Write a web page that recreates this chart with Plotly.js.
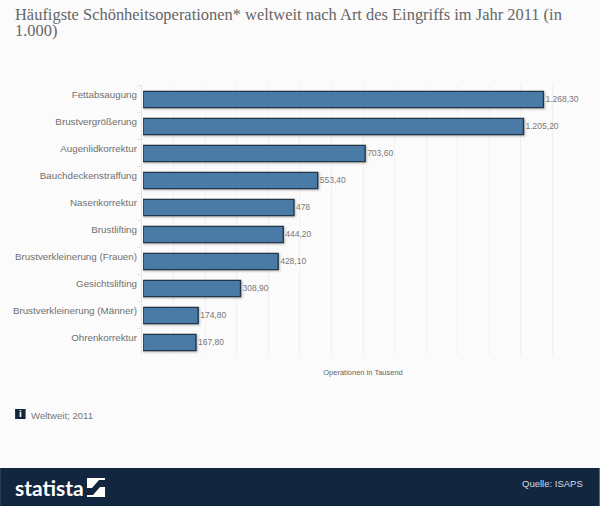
<!DOCTYPE html>
<html><head><meta charset="utf-8">
<script src="https://cdn.plot.ly/plotly-3.0.1.min.js"></script>
<style>html,body{margin:0;padding:0;background:#fbfbfb}#c{width:600px;height:507px}
.barlayer .point path{transform:translate(1px,1px);filter:drop-shadow(1px 1px 1px rgba(0,0,0,.28))}</style>
</head><body><div id="c"></div>
<script>
const categories=["Fettabsaugung","Brustvergrößerung","Augenlidkorrektur","Bauchdeckenstraffung","Nasenkorrektur","Brustlifting","Brustverkleinerung (Frauen)","Gesichtslifting","Brustverkleinerung (Männer)","Ohrenkorrektur"];
const values=[1268.3,1205.2,703.6,553.4,478,444.2,428.1,308.9,174.8,167.8];
const valueLabels=["1.268,30","1.205,20","703,60","553,40","478","444,20","428,10","308,90","174,80","167,80"];
const titleText="Häufigste Schönheitsoperationen* weltweit nach Art des Eingriffs im Jahr 2011 (in<br>1.000)";
const axisTitle="Operationen in Tausend";
const note="Weltweit; 2011";
const source="Quelle: ISAPS";
const brand="statista";

const L=142,R=584.3,T=85,B=355;
const px=x=>(x-L)/(R-L), py=y=>(B-y)/(B-T);
const rect=(x0,y0,x1,y1,fill)=>({type:'rect',xref:'paper',yref:'paper',x0:px(x0),x1:px(x1),y0:py(y1),y1:py(y0),fillcolor:fill,line:{width:0},layer:'above'});
const poly=(pts,fill)=>({type:'path',xref:'paper',yref:'paper',path:'M'+pts.map(p=>px(p[0])+','+py(p[1])).join('L')+'Z',fillcolor:fill,line:{width:0},layer:'above'});
const navy='#12273f';
const ann=(x,y,text,font,anchor)=>({xref:'paper',yref:'paper',x:px(x),y:py(y),text,showarrow:false,xanchor:anchor,yanchor:'middle',font,borderpad:0});
const sans='"Liberation Sans",sans-serif';

Plotly.newPlot('c',[{
  type:'bar',orientation:'h',y:categories,x:values,width:0.6,
  marker:{color:'#4a7ba7',line:{color:'#22364a',width:1.4}},
  text:valueLabels,textposition:'outside',cliponaxis:false,
  textfont:{family:sans,size:8.5,color:'#777'},hoverinfo:'x+y'
}],{
  width:600,height:507,paper_bgcolor:'#fbfbfb',plot_bgcolor:'#fbfbfb',showlegend:false,
  margin:{l:L,r:600-R,t:T,b:507-B,pad:0},
  title:{text:titleText,x:15/600,xanchor:'left',y:1-20/507,yanchor:'top',font:{family:'"Liberation Serif",serif',size:16.45,color:'#666'}},
  xaxis:{range:[0,1400],dtick:100,showticklabels:false,ticks:'',showgrid:true,gridcolor:'#f0f0f0',gridwidth:1,zeroline:false,showline:false,
    title:{text:axisTitle,standoff:14,font:{family:sans,size:7.5,color:'#666'}}},
  yaxis:{autorange:'reversed',type:'category',tickson:'boundaries',ticks:'outside',ticklen:4,tickcolor:'#dfe6ec',showline:true,linecolor:'#dfe6ec',linewidth:1,showgrid:false,zeroline:false,ticklabelstandoff:2,ticklabelshift:4,
    tickfont:{family:sans,size:9.8,color:'#707070'}},
  shapes:[
    rect(0,468,600,506,navy),
    rect(15,409,25.5,419,navy),
    poly([[87,478],[105,478],[105,480],[99,480],[92,488],[87,488]],'#fff'),
    poly([[105,497],[87,497],[87,495],[93,495],[100,487],[105,487]],'#fff')
  ],
  annotations:[
    ann(30,415,note,{size:9.6,color:'#777',family:sans},'left'),
    ann(20.2,414,'i',{size:8,color:'#fff',family:'"DejaVu Sans",sans-serif',weight:700},'center'),
    ann(584.5,483,source,{size:9.5,color:'#d5dce3',family:sans},'right'),
    ann(14,487,brand,{size:21,color:'#fff',family:'"Lato",sans-serif',weight:700},'left')
  ]
},{displayModeBar:false,staticPlot:true}).then(gd=>{
  const lines=gd.querySelectorAll('.gtitle tspan.line');
  if(lines[1])lines[1].setAttribute('dy','0.97em');
});
</script></body></html>
